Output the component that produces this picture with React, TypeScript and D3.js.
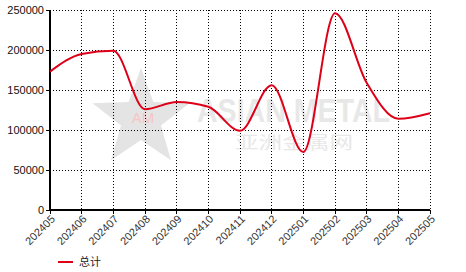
import React from "react";
import * as d3 from "d3";

const categories = ["202405","202406","202407","202408","202409","202410","202411","202412","202501","202502","202503","202504","202505"];
const totals = [173000,195000,199000,126000,135000,129000,99000,156000,72500,246000,159000,114000,121000];
const yTicks = [0,50000,100000,150000,200000,250000];
const seriesName = "总计";

const W = 466, H = 272;
const M = { left: 50, right: 36, top: 10, bottom: 62 };

export default function App() {
  const x = d3.scalePoint<string>().domain(categories).range([M.left, W - M.right]);
  const y = d3.scaleLinear().domain([0, 250000]).range([H - M.bottom, M.top]);
  const line = d3.line<number>()
    .x((_, i) => x(categories[i]) as number)
    .y((d) => y(d))
    .curve(d3.curveMonotoneX);
  const x0 = M.left, x1 = W - M.right, y0 = H - M.bottom, y1 = M.top;

  const star = (cx: number, cy: number, r: number, ri: number) => {
    const pts: string[] = [];
    for (let i = 0; i < 10; i++) {
      const a = -Math.PI / 2 + (i * Math.PI) / 5;
      const rr = i % 2 === 0 ? r : ri;
      pts.push(`${cx + rr * Math.cos(a)},${cy + rr * Math.sin(a)}`);
    }
    return pts.join(" ");
  };

  return (
    <svg width={W} height={H} style={{ position: "absolute", left: 0, top: 0, background: "#fff" }}
      fontFamily="Arial, 'Liberation Sans', sans-serif">
      {/* watermark */}
      <g>
        <polygon points={star(141, 119, 51, 21)} fill="#e4e4e4" />
        <text x={143} y={123} textAnchor="middle" fontSize={15} fill="#f8c4c4">AM</text>
        <text x={197} y={122} fontSize={34} fontWeight="bold" fill="#e8e8e8" textLength={193} lengthAdjust="spacingAndGlyphs">ASIAN METAL</text>
        <text x={235} y={149} fontSize={18} fill="#e8e8e8" fontFamily="'Noto Sans CJK SC', sans-serif" textLength={118} lengthAdjust="spacingAndGlyphs">亚洲金属网</text>
      </g>
      {/* grid */}
      {yTicks.map((t) => (
        <line key={"gy" + t} x1={x0} x2={x1} y1={y(t)} y2={y(t)} stroke="#000" strokeDasharray="1,2" strokeWidth={1} shapeRendering="crispEdges" />
      ))}
      {categories.map((c) => (
        <line key={"gx" + c} x1={x(c)} x2={x(c)} y1={y1} y2={y0} stroke="#000" strokeDasharray="1,2" strokeWidth={1} shapeRendering="crispEdges" />
      ))}
      {/* axes */}
      <line x1={x0} x2={x0} y1={y1} y2={y0 + 0.5} stroke="#000" strokeWidth={1.5} shapeRendering="crispEdges" />
      <line x1={x0} x2={x1} y1={y0} y2={y0} stroke="#000" strokeWidth={1.5} shapeRendering="crispEdges" />
      {yTicks.map((t) => (
        <g key={"ty" + t}>
          <line x1={x0 - 4} x2={x0} y1={y(t)} y2={y(t)} stroke="#000" shapeRendering="crispEdges" />
          <text x={x0 - 6} y={y(t)} dy="0.35em" textAnchor="end" fontSize={11} fill="#111">{t}</text>
        </g>
      ))}
      {categories.map((c) => (
        <g key={"tx" + c}>
          <line x1={x(c)} x2={x(c)} y1={y0} y2={y0 + 4} stroke="#000" shapeRendering="crispEdges" />
          <text transform={`translate(${(x(c) as number) + 3},${y0 + 7}) rotate(-45)`} textAnchor="end" dy="0.35em" fontSize={11} fill="#333">{c}</text>
        </g>
      ))}
      {/* series */}
      <path d={line(totals) || ""} fill="none" stroke="#dd0018" strokeWidth={2} />
      {/* legend */}
      <line x1={58} x2={73} y1={262} y2={262} stroke="#dd0018" strokeWidth={2} />
      <text x={79} y={262} dy="0.35em" fontSize={11} fill="#222" fontFamily="'Noto Sans CJK SC', sans-serif">{seriesName}</text>
    </svg>
  );
}
